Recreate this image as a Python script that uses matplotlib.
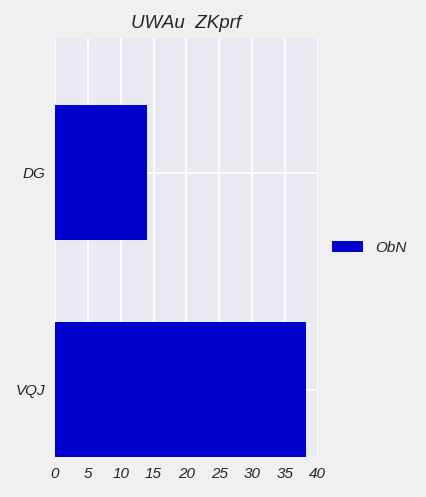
import matplotlib
matplotlib.use("Agg")
import matplotlib.pyplot as plt

categories = ["VQJ", "DG"]
values = [38.2, 14.0]
series_name = "ObN"
title = "UWAu  ZKprf"
xticks = [0, 5, 10, 15, 20, 25, 30, 35, 40]

plt.rcParams['font.family'] = ['Liberation Sans', 'DejaVu Sans']
plt.rcParams['font.style'] = 'italic'

fig = plt.figure(figsize=(4.26, 4.97), dpi=100, facecolor='#f0f0f0')
ax = fig.add_axes([0.129, 0.0805, 0.617, 0.843])
ax.set_facecolor('#eaeaf2')

ypos = list(range(len(categories)))
ax.barh(ypos, values, height=0.62, color='#0000cd', label=series_name, zorder=2)

ax.set_xlim(0, 40)
ax.set_ylim(-0.31, 1.62)
ax.set_xticks(xticks)
ax.set_xticklabels([str(t) for t in xticks])
ax.set_yticks(ypos)
ax.set_yticklabels(categories)
ax.grid(True, color='white', linewidth=1.3, zorder=0)
ax.set_axisbelow(True)
for s in ax.spines.values():
    s.set_visible(False)
ax.tick_params(length=0, labelsize=11, labelcolor='#262626', pad=7)

ax.set_title(title, fontsize=13.5, color='#262626', pad=7)

ax.legend(loc='center left', bbox_to_anchor=(1.003, 0.5), frameon=False,
          fontsize=11, handlelength=2.0, handleheight=0.7, labelcolor='#262626')

fig.savefig("out.png", dpi=100, facecolor=fig.get_facecolor())
